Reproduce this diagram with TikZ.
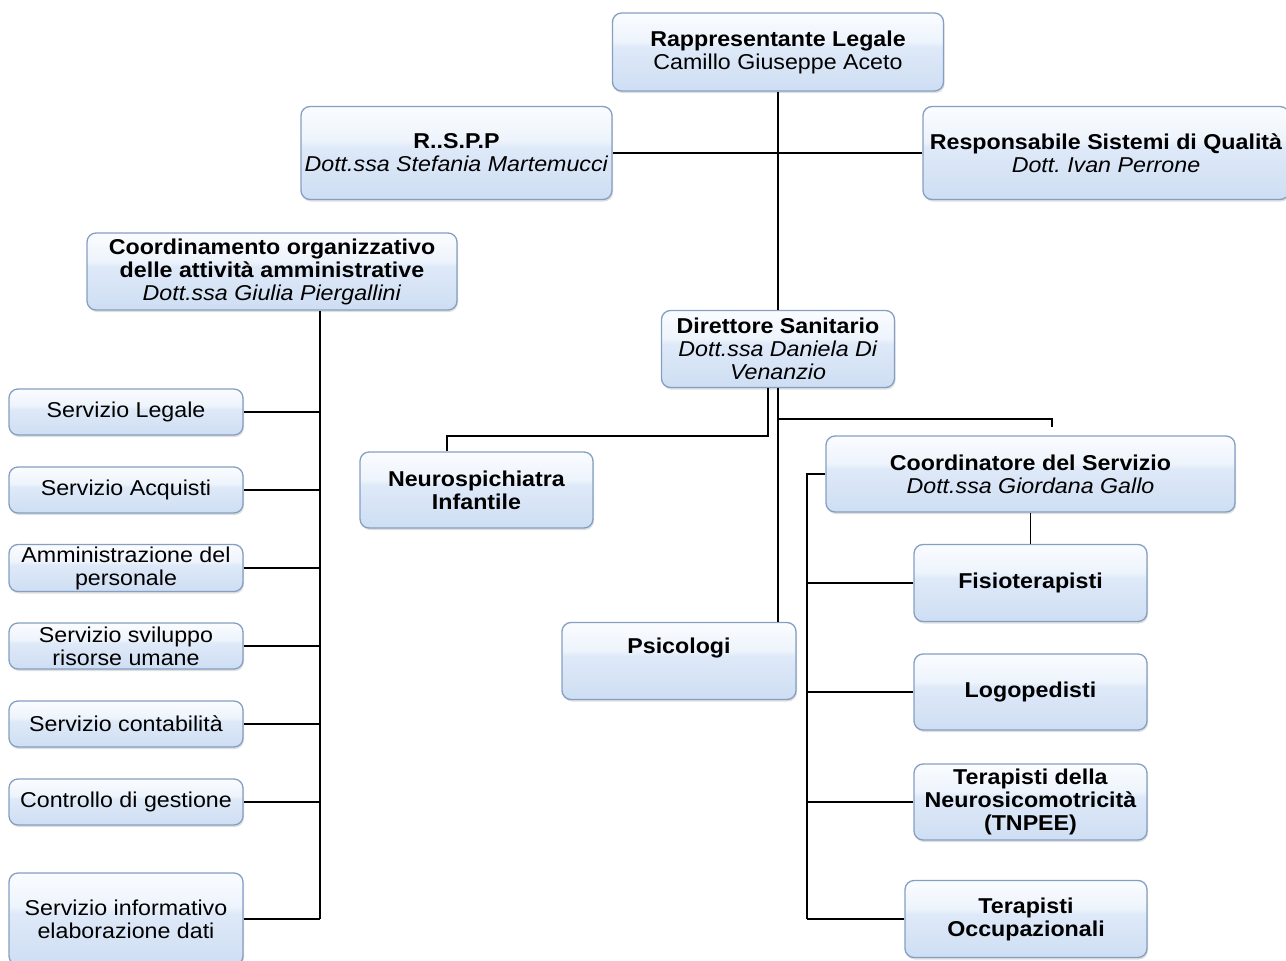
\documentclass[tikz,border=0pt]{standalone}
\usepackage{fontspec}
\setmainfont[FakeStretch=1.08]{Liberation Sans}
\usepackage{tikz}
\usetikzlibrary{shadows,positioning}
\definecolor{orgborder}{RGB}{133,158,194}
\definecolor{orgtop}{RGB}{250,252,255}
\definecolor{orglight}{RGB}{238,244,252}
\definecolor{orgmid}{RGB}{222,233,248}
\definecolor{orgbottom}{RGB}{206,222,243}
\pgfdeclareverticalshading{orgshade}{100bp}{color(0bp)=(orgbottom); color(25bp)=(orgbottom); color(53bp)=(orgmid); color(57bp)=(orglight); color(75bp)=(orgtop); color(100bp)=(orgtop)}
\tikzstyle{orgbox} = [rectangle, rounded corners=9pt, draw=orgborder, line width=1.3pt, shading=orgshade, align=center, inner sep=2pt, font=\fontsize{21.5}{23}\selectfont, drop shadow={shadow xshift=1pt, shadow yshift=-2pt, opacity=0.25}]
\tikzstyle{link} = [line width=1.9pt, black]

\begin{document}
\begin{tikzpicture}[x=1pt, y=-1pt]
\useasboundingbox (0,0) rectangle (1286,961);

% Top level
\node[orgbox, minimum width=331pt, minimum height=78pt] (rapp) at (778,52) {\textbf{Rappresentante Legale}\\Camillo Giuseppe Aceto};
\node[orgbox, minimum width=311pt, minimum height=93pt] (rspp) at (456.5,153) {\textbf{R..S.P.P}\\\textit{Dott.ssa Stefania Martemucci}};
\node[orgbox, minimum width=366pt, minimum height=93pt] (rsq) at (1106,153) {\textbf{Responsabile Sistemi di Qualità}\\\textit{Dott.\ Ivan Perrone}};
\node[orgbox, minimum width=370pt, minimum height=77pt] (coord) at (272,271.5) {\textbf{Coordinamento organizzativo}\\\textbf{delle attività amministrative}\\\textit{Dott.ssa Giulia Piergallini}};
\node[orgbox, minimum width=233pt, minimum height=77pt] (dir) at (778,349) {\textbf{Direttore Sanitario}\\\textit{Dott.ssa Daniela Di}\\\textit{Venanzio}};

% Administrative services
\node[orgbox, minimum width=234pt, minimum height=46pt] (sleg) at (126,412) {Servizio Legale};
\node[orgbox, minimum width=234pt, minimum height=46pt] (sacq) at (126,490) {Servizio Acquisti};
\node[orgbox, minimum width=234pt, minimum height=46pt] (sper) at (126,568) {Amministrazione del\\personale};
\node[orgbox, minimum width=234pt, minimum height=46pt] (sris) at (126,646) {Servizio sviluppo\\risorse umane};
\node[orgbox, minimum width=234pt, minimum height=46pt] (scon) at (126,724) {Servizio contabilità};
\node[orgbox, minimum width=234pt, minimum height=46pt] (sges) at (126,802) {Controllo di gestione};
\node[orgbox, minimum width=234pt, minimum height=92pt] (sinf) at (126,919) {Servizio informativo\\elaborazione dati};

% Health services
\node[orgbox, minimum width=233pt, minimum height=76pt] (neuro) at (476.5,490) {\textbf{Neurospichiatra}\\\textbf{Infantile}};
\node[orgbox, minimum width=409pt, minimum height=76pt] (cserv) at (1030.5,474) {\textbf{Coordinatore del Servizio}\\\textit{Dott.ssa Giordana Gallo}};
\node[orgbox, minimum width=234pt, minimum height=77pt] (psi) at (679,661) {\textbf{Psicologi}\\\strut};
\node[orgbox, minimum width=233pt, minimum height=77pt] (fisio) at (1030.5,583) {\textbf{Fisioterapisti}};
\node[orgbox, minimum width=233pt, minimum height=76pt] (logo) at (1030.5,692) {\textbf{Logopedisti}};
\node[orgbox, minimum width=233pt, minimum height=76pt] (tnpee) at (1030.5,802) {\textbf{Terapisti della}\\\textbf{Neurosicomotricità}\\\textbf{(TNPEE)}};
\node[orgbox, minimum width=242pt, minimum height=77pt] (occ) at (1026,919) {\textbf{Terapisti}\\\textbf{Occupazionali}};

% Top connections
\draw[link] (rapp.south) -- (dir.north);
\draw[link] (rspp.east) -- (rsq.west);

% Administrative bus
\coordinate (abus) at (320,0);
\draw[link] (coord.south -| abus) -- (sinf.east -| abus);
\foreach \n in {sleg,sacq,sper,sris,scon,sges,sinf}
  \draw[link] (\n.east) -- (\n.east -| abus);

% Director connections
\draw[link] ([xshift=-10pt]dir.south) -- ++(0,48) -| ([xshift=-29.5pt]neuro.north);
\draw[link] (dir.south) -- (dir.south |- psi.north);
\draw[link] (dir.south |- 0,419) -| ([xshift=21.5pt, yshift=8pt]cserv.north);

% Therapists bus
\coordinate (tbus) at (807,0);
\draw[link] (cserv.south) -- (fisio.north);
\draw[link] (cserv.west) -- (cserv.west -| tbus) -- (occ.west -| tbus);
\foreach \n in {fisio,logo,tnpee,occ}
  \draw[link] (\n.west) -- (\n.west -| tbus);
\end{tikzpicture}
\end{document}
